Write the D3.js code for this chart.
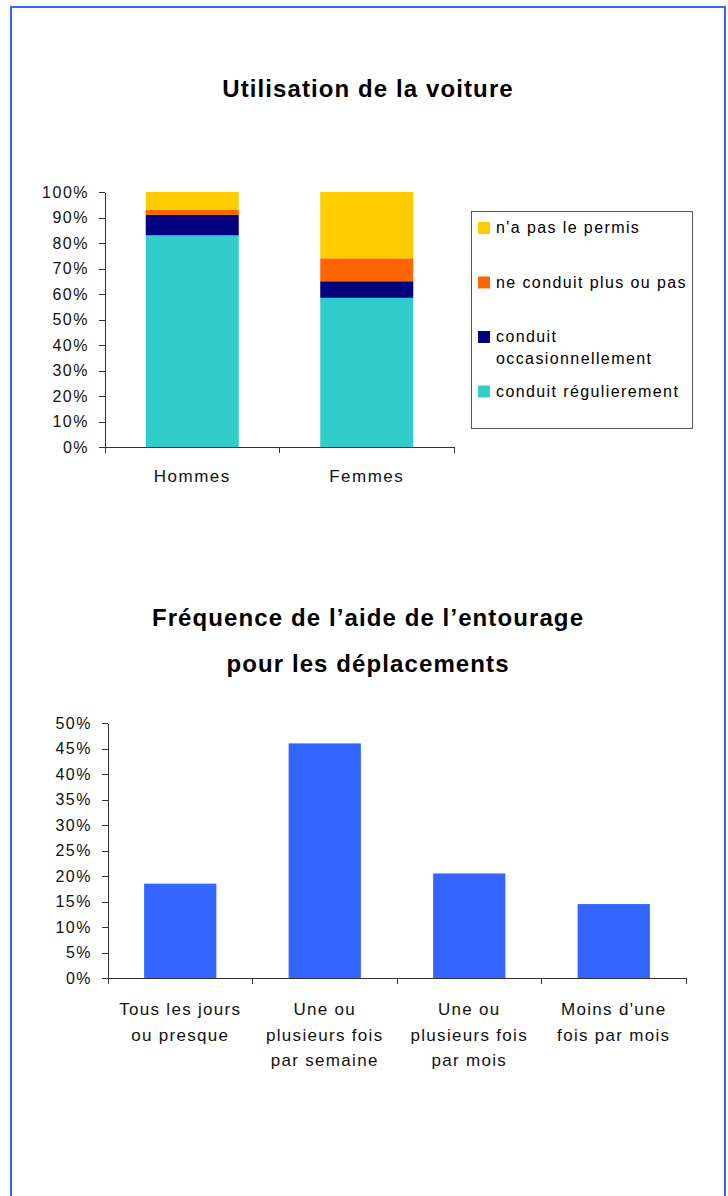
<!DOCTYPE html>
<html>
<head>
<meta charset="utf-8">
<script src="https://cdn.jsdelivr.net/npm/d3@7"></script>
<style>
  body { margin: 0; background: #fff; }
  svg { display: block; font-family: "Liberation Sans", Arial, sans-serif; }
  .axis path, .axis line { stroke: #333; shape-rendering: crispEdges; }
  .axis text { fill: #111; }
</style>
</head>
<body>
<div id="chart"></div>
<script>
// Chart 1 data : utilisation de la voiture
const genres = ["Hommes", "Femmes"];
const voitureKeys = ["regulier", "occasionnel", "plusOuPas", "pasPermis"];
const voitureLabels = ["conduit régulierement", "conduit\noccasionnellement", "ne conduit plus ou pas", "n'a pas le permis"];
const regulier = [0.83, 0.585];
const occasionnel = [0.08, 0.065];
const plusOuPas = [0.02, 0.09];
const pasPermis = [0.07, 0.26];

// Chart 2 data : fréquence de l'aide
const frequences = ["Tous les jours\nou presque", "Une ou\nplusieurs fois\npar semaine", "Une ou\nplusieurs fois\npar mois", "Moins d'une\nfois par mois"];
const aide = [0.185, 0.46, 0.205, 0.145];

const colors = { regulier: "#33cccc", occasionnel: "#000080", plusOuPas: "#ff6600", pasPermis: "#ffcc00" };

const svg = d3.select("#chart").append("svg")
    .attr("width", 728)
    .attr("height", 1196);

// blue frame
svg.append("rect")
    .attr("x", 11).attr("y", 7)
    .attr("width", 714).attr("height", 1250)
    .attr("fill", "none")
    .attr("stroke", "#3366ff")
    .attr("stroke-width", 2);

// ---------- Chart 1 ----------
svg.append("text")
    .attr("x", 368).attr("y", 96.5)
    .attr("text-anchor", "middle")
    .style("font-size", "24px").style("font-weight", "bold")
    .style("letter-spacing", "1.1px")
    .text("Utilisation de la voiture");

const rows = genres.map((g, i) => ({
    genre: g, regulier: regulier[i], occasionnel: occasionnel[i],
    plusOuPas: plusOuPas[i], pasPermis: pasPermis[i]
}));
const stacked = d3.stack().keys(voitureKeys)(rows);

const x1 = d3.scaleBand().domain(genres).range([105, 454]);
const y1 = d3.scaleLinear().domain([0, 1]).range([447, 192]);
const barW1 = x1.bandwidth() * 0.533;

svg.append("g").selectAll("g")
    .data(stacked)
    .join("g")
    .attr("fill", d => colors[d.key])
    .selectAll("rect")
    .data(d => d)
    .join("rect")
    .attr("x", d => x1(d.data.genre) + (x1.bandwidth() - barW1) / 2)
    .attr("y", d => y1(d[1]))
    .attr("width", barW1)
    .attr("height", d => y1(d[0]) - y1(d[1]));

// y axis
svg.append("g")
    .attr("class", "axis")
    .attr("transform", "translate(105,0)")
    .call(d3.axisLeft(y1).ticks(10).tickFormat(d3.format(".0%")).tickSize(6).tickSizeOuter(0).tickPadding(10))
    .call(g => g.selectAll("text").style("font-size", "16px").style("letter-spacing", "1.5px"));

// x axis with ticks between the categories
const xAxis1 = svg.append("g")
    .attr("class", "axis")
    .attr("transform", "translate(0,447)");
xAxis1.append("line").attr("x1", 105).attr("x2", 454);
xAxis1.selectAll(".tk")
    .data([105, 105 + x1.bandwidth(), 454])
    .join("line")
    .attr("x1", d => d).attr("x2", d => d)
    .attr("y1", 0).attr("y2", 6);
xAxis1.selectAll("text")
    .data(genres)
    .join("text")
    .attr("x", d => x1(d) + x1.bandwidth() / 2)
    .attr("y", 35)
    .attr("text-anchor", "middle")
    .style("font-size", "17px").style("letter-spacing", "1.5px")
    .text(d => d);

// legend
const legend = svg.append("g");
legend.append("rect")
    .attr("x", 471.5).attr("y", 211.5)
    .attr("width", 221).attr("height", 217)
    .attr("fill", "#fff")
    .attr("stroke", "#555");
const legendOrder = voitureKeys.slice().reverse();
const legendItems = legend.selectAll(".item")
    .data(legendOrder)
    .join("g")
    .attr("transform", (d, i) => `translate(478,${222 + i * 54.5})`);
legendItems.append("rect")
    .attr("width", 12).attr("height", 12)
    .attr("fill", d => colors[d]);
legendItems.append("text")
    .style("font-size", "16px").style("letter-spacing", "1.4px")
    .selectAll("tspan")
    .data(d => voitureLabels[voitureKeys.indexOf(d)].split("\n"))
    .join("tspan")
    .attr("x", 18)
    .attr("y", (d, i) => 11 + i * 21.5)
    .text(d => d);

// ---------- Chart 2 ----------
const title2 = svg.append("text")
    .attr("text-anchor", "middle")
    .style("font-size", "24px").style("font-weight", "bold")
    .style("letter-spacing", "1.1px");
title2.append("tspan").attr("x", 368).attr("y", 626).text("Fréquence de l’aide de l’entourage");
title2.append("tspan").attr("x", 368).attr("y", 672).text("pour les déplacements");

const x2 = d3.scaleBand().domain(frequences).range([108, 686]);
const y2 = d3.scaleLinear().domain([0, 0.5]).range([978, 723]);
const barW2 = x2.bandwidth() * 0.5;

svg.append("g").selectAll("rect")
    .data(aide)
    .join("rect")
    .attr("x", (d, i) => x2(frequences[i]) + (x2.bandwidth() - barW2) / 2)
    .attr("y", d => y2(d))
    .attr("width", barW2)
    .attr("height", d => y2(0) - y2(d))
    .attr("fill", "#3366ff");

svg.append("g")
    .attr("class", "axis")
    .attr("transform", "translate(108,0)")
    .call(d3.axisLeft(y2).ticks(10).tickFormat(d3.format(".0%")).tickSize(6).tickSizeOuter(0).tickPadding(10))
    .call(g => g.selectAll("text").style("font-size", "16px").style("letter-spacing", "1.5px"));

const xAxis2 = svg.append("g")
    .attr("class", "axis")
    .attr("transform", "translate(0,978)");
xAxis2.append("line").attr("x1", 108).attr("x2", 686);
xAxis2.selectAll(".tk")
    .data(frequences.map(f => x2(f)).concat([686]))
    .join("line")
    .attr("x1", d => d).attr("x2", d => d)
    .attr("y1", 0).attr("y2", 6);
xAxis2.selectAll("text")
    .data(frequences)
    .join("text")
    .attr("text-anchor", "middle")
    .style("font-size", "17px").style("letter-spacing", "1.3px")
    .selectAll("tspan")
    .data(d => d.split("\n").map(line => ({ line, cx: x2(d) + x2.bandwidth() / 2 })))
    .join("tspan")
    .attr("x", d => d.cx)
    .attr("y", (d, i) => 37 + i * 25.5)
    .text(d => d.line);
</script>
</body>
</html>
